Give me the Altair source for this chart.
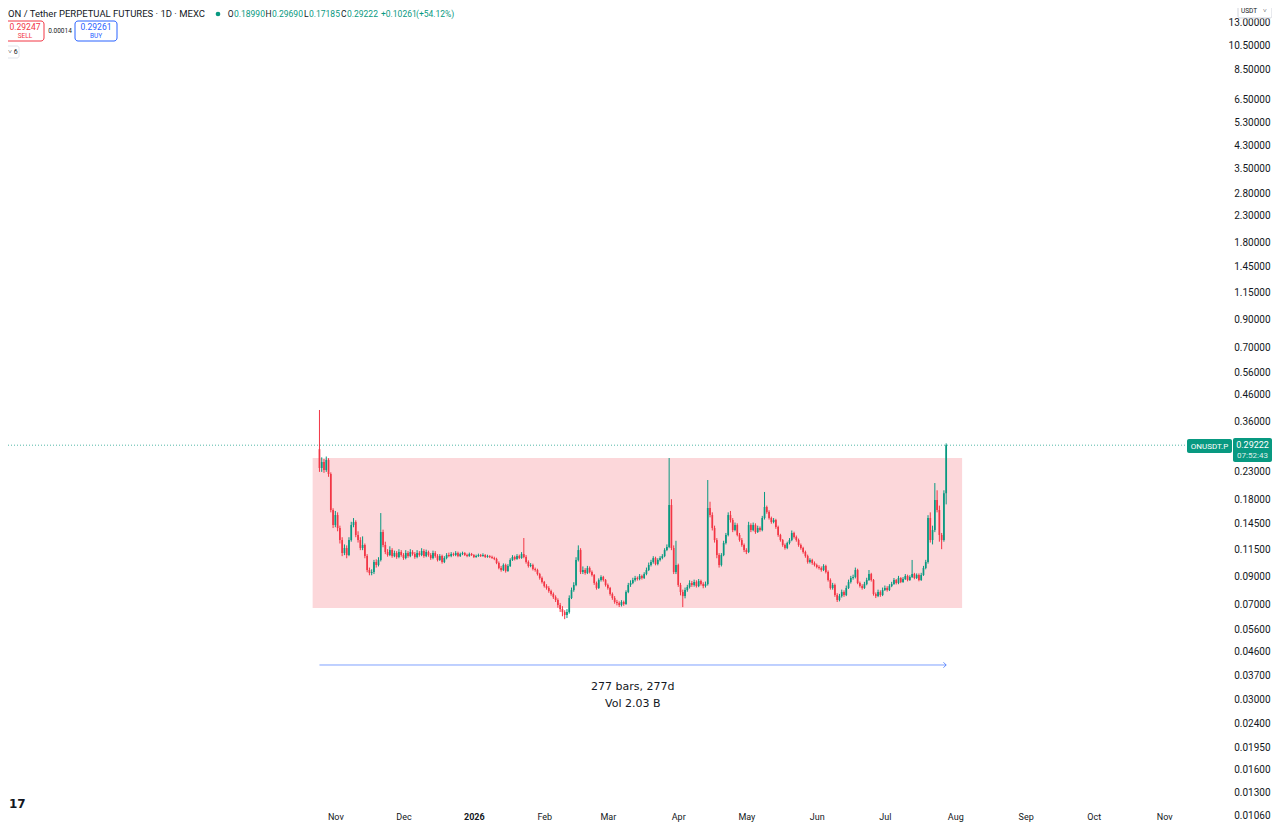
import altair as alt
import pandas as pd

# ---------------- data ----------------
start_date = "2025-10-25"          # first daily bar (277 bars)
first_open = 0.2820

closes = [
    0.2382, 0.2513, 0.2339, 0.2559, 0.2257, 0.1634, 0.1428, 0.1562, 0.1390, 0.1248,
    0.1111, 0.1162, 0.1091, 0.1248, 0.1428, 0.1467, 0.1306, 0.1248, 0.1162, 0.1194,
    0.1081, 0.0954, 0.0929, 0.0937, 0.1025, 0.0998, 0.1044, 0.1341, 0.1194, 0.1121,
    0.1091, 0.1141, 0.1081, 0.1111, 0.1072, 0.1121, 0.1091, 0.1062, 0.1111, 0.1081,
    0.1121, 0.1101, 0.1072, 0.1111, 0.1091, 0.1131, 0.1081, 0.1121, 0.1091, 0.1062,
    0.1111, 0.1081, 0.1044, 0.1081, 0.1025, 0.1062, 0.1091, 0.1081, 0.1101, 0.1091,
    0.1111, 0.1081, 0.1101, 0.1111, 0.1091, 0.1081, 0.1101, 0.1091, 0.1072, 0.1081,
    0.1091, 0.1081, 0.1091, 0.1072, 0.1081, 0.1072, 0.1062, 0.1053, 0.1016, 0.0971,
    0.0954, 0.0998, 0.0946, 0.0989, 0.1044, 0.1072, 0.1053, 0.1081, 0.1062, 0.1101,
    0.1072, 0.1025, 0.0989, 0.0998, 0.0963, 0.0954, 0.0920, 0.0888, 0.0857, 0.0826,
    0.0812, 0.0790, 0.0769, 0.0748, 0.0729, 0.0697, 0.0672, 0.0654, 0.0637, 0.0654,
    0.0742, 0.0797, 0.0834, 0.1044, 0.1141, 0.0937, 0.0954, 0.0929, 0.0971, 0.0937,
    0.0912, 0.0849, 0.0812, 0.0872, 0.0896, 0.0872, 0.0834, 0.0812, 0.0769, 0.0742,
    0.0716, 0.0709, 0.0697, 0.0716, 0.0703, 0.0783, 0.0834, 0.0849, 0.0872, 0.0888,
    0.0880, 0.0904, 0.0888, 0.0920, 0.0954, 0.0998, 0.1025, 0.1062, 0.1007, 0.1044,
    0.1062, 0.1081, 0.1141, 0.1173, 0.1709, 0.1162, 0.0937, 0.0998, 0.0834, 0.0783,
    0.0755, 0.0797, 0.0819, 0.0849, 0.0834, 0.0857, 0.0826, 0.0864, 0.0841, 0.0826,
    0.0841, 0.1664, 0.1562, 0.1390, 0.1248, 0.1091, 0.0998, 0.1091, 0.1215, 0.1306,
    0.1562, 0.1494, 0.1365, 0.1428, 0.1306, 0.1248, 0.1194, 0.1141, 0.1121, 0.1428,
    0.1365, 0.1428, 0.1341, 0.1390, 0.1365, 0.1521, 0.1679, 0.1605, 0.1521, 0.1467,
    0.1494, 0.1403, 0.1306, 0.1248, 0.1194, 0.1162, 0.1215, 0.1248, 0.1329, 0.1283,
    0.1248, 0.1194, 0.1162, 0.1121, 0.1081, 0.1025, 0.1044, 0.1016, 0.0998, 0.0980,
    0.0971, 0.0954, 0.0989, 0.0937, 0.0872, 0.0812, 0.0834, 0.0762, 0.0729, 0.0755,
    0.0783, 0.0762, 0.0812, 0.0857, 0.0888, 0.0896, 0.0954, 0.0849, 0.0826, 0.0812,
    0.0841, 0.0872, 0.0920, 0.0872, 0.0769, 0.0755, 0.0783, 0.0762, 0.0797, 0.0812,
    0.0797, 0.0826, 0.0841, 0.0872, 0.0849, 0.0888, 0.0857, 0.0880, 0.0904, 0.0872,
    0.0896, 0.0920, 0.0888, 0.0912, 0.0872, 0.0912, 0.0971, 0.1025, 0.1521, 0.1248,
    0.1365, 0.1787, 0.1634, 0.1306, 0.1248, 0.1899, 0.29222,
]

highs = [
    0.4007, 0.2620, 0.2580, 0.2640, 0.2600, 0.2290, 0.1660, 0.1620, 0.1600, 0.1420,
    0.1280, 0.1200, 0.1190, 0.1280, 0.1470, 0.1520, 0.1490, 0.1350, 0.1280, 0.1290,
    0.1210, 0.1100, 0.0975, 0.0960, 0.1045, 0.1050, 0.1070, 0.1590, 0.1370, 0.1230,
    0.1150, 0.1180, 0.1160, 0.1135, 0.1130, 0.1150, 0.1140, 0.1110, 0.1140, 0.1130,
    0.1150, 0.1140, 0.1120, 0.1140, 0.1130, 0.1160, 0.1150, 0.1145, 0.1135, 0.1110,
    0.1135, 0.1130, 0.1100, 0.1100, 0.1095, 0.1080, 0.1110, 0.1115, 0.1120, 0.1115,
    0.1130, 0.1125, 0.1115, 0.1125, 0.1120, 0.1105, 0.1115, 0.1112, 0.1100, 0.1095,
    0.1105, 0.1102, 0.1108, 0.1100, 0.1094, 0.1090, 0.1085, 0.1075, 0.1065, 0.1030,
    0.0990, 0.1012, 0.1010, 0.1005, 0.1060, 0.1090, 0.1085, 0.1100, 0.1095, 0.1120,
    0.1271, 0.1090, 0.1040, 0.1015, 0.1010, 0.0975, 0.0965, 0.0930, 0.0900, 0.0865,
    0.0840, 0.0825, 0.0800, 0.0780, 0.0760, 0.0740, 0.0710, 0.0690, 0.0665, 0.0672,
    0.0760, 0.0815, 0.0855, 0.1070, 0.1190, 0.1160, 0.0985, 0.0970, 0.0990, 0.0985,
    0.0950, 0.0920, 0.0860, 0.0885, 0.0910, 0.0905, 0.0880, 0.0845, 0.0820, 0.0780,
    0.0755, 0.0730, 0.0720, 0.0728, 0.0725, 0.0795, 0.0850, 0.0870, 0.0890, 0.0905,
    0.0900, 0.0920, 0.0915, 0.0935, 0.0975, 0.1020, 0.1045, 0.1080, 0.1075, 0.1060,
    0.1080, 0.1100, 0.1160, 0.1200, 0.2605, 0.1800, 0.1190, 0.1240, 0.1010, 0.0850,
    0.0800, 0.0815, 0.0835, 0.0870, 0.0865, 0.0875, 0.0870, 0.0880, 0.0875, 0.0855,
    0.0860, 0.2138, 0.1760, 0.1600, 0.1420, 0.1270, 0.1110, 0.1110, 0.1240, 0.1330,
    0.1600, 0.1620, 0.1520, 0.1460, 0.1450, 0.1330, 0.1270, 0.1210, 0.1160, 0.1470,
    0.1450, 0.1460, 0.1450, 0.1420, 0.1410, 0.1550, 0.1921, 0.1700, 0.1630, 0.1540,
    0.1520, 0.1510, 0.1420, 0.1320, 0.1260, 0.1210, 0.1230, 0.1270, 0.1360, 0.1345,
    0.1300, 0.1265, 0.1210, 0.1175, 0.1135, 0.1095, 0.1060, 0.1055, 0.1030, 0.1010,
    0.0995, 0.0985, 0.1005, 0.1000, 0.0950, 0.0885, 0.0850, 0.0845, 0.0775, 0.0770,
    0.0800, 0.0795, 0.0830, 0.0875, 0.0905, 0.0915, 0.0975, 0.0965, 0.0860, 0.0840,
    0.0858, 0.0890, 0.0954, 0.0930, 0.0880, 0.0780, 0.0800, 0.0795, 0.0815, 0.0830,
    0.0825, 0.0840, 0.0858, 0.0888, 0.0880, 0.0905, 0.0895, 0.0895, 0.0920, 0.0915,
    0.0910, 0.1044, 0.0930, 0.0925, 0.0925, 0.0930, 0.0990, 0.1045, 0.1560, 0.1600,
    0.1420, 0.2081, 0.1950, 0.1700, 0.1330, 0.1950, 0.2969,
]

lows = [
    0.2300, 0.2300, 0.2280, 0.2300, 0.2200, 0.1600, 0.1390, 0.1400, 0.1350, 0.1210,
    0.1080, 0.1090, 0.1060, 0.1080, 0.1230, 0.1400, 0.1280, 0.1220, 0.1140, 0.1140,
    0.1060, 0.0935, 0.0910, 0.0910, 0.0920, 0.0975, 0.0985, 0.1030, 0.1170, 0.1100,
    0.1075, 0.1080, 0.1065, 0.1070, 0.1055, 0.1060, 0.1075, 0.1045, 0.1050, 0.1065,
    0.1070, 0.1085, 0.1055, 0.1060, 0.1075, 0.1080, 0.1065, 0.1070, 0.1075, 0.1045,
    0.1050, 0.1065, 0.1030, 0.1035, 0.1010, 0.1015, 0.1050, 0.1070, 0.1070, 0.1080,
    0.1080, 0.1070, 0.1072, 0.1090, 0.1082, 0.1070, 0.1074, 0.1082, 0.1062, 0.1064,
    0.1073, 0.1072, 0.1074, 0.1063, 0.1065, 0.1062, 0.1054, 0.1042, 0.1005, 0.0960,
    0.0940, 0.0945, 0.0932, 0.0938, 0.0980, 0.1035, 0.1040, 0.1045, 0.1052, 0.1055,
    0.1060, 0.1010, 0.0975, 0.0978, 0.0950, 0.0940, 0.0908, 0.0875, 0.0845, 0.0815,
    0.0800, 0.0778, 0.0758, 0.0736, 0.0716, 0.0680, 0.0655, 0.0630, 0.0614, 0.0620,
    0.0645, 0.0735, 0.0785, 0.0825, 0.1030, 0.0920, 0.0920, 0.0915, 0.0920, 0.0925,
    0.0900, 0.0835, 0.0800, 0.0805, 0.0860, 0.0860, 0.0822, 0.0800, 0.0758, 0.0730,
    0.0705, 0.0695, 0.0685, 0.0688, 0.0692, 0.0698, 0.0775, 0.0820, 0.0840, 0.0860,
    0.0868, 0.0870, 0.0876, 0.0880, 0.0910, 0.0945, 0.0985, 0.1010, 0.0995, 0.0995,
    0.1030, 0.1050, 0.1070, 0.1130, 0.1160, 0.1140, 0.0920, 0.0920, 0.0820, 0.0760,
    0.0684, 0.0740, 0.0785, 0.0808, 0.0820, 0.0822, 0.0815, 0.0818, 0.0830, 0.0810,
    0.0815, 0.0830, 0.1530, 0.1360, 0.1220, 0.1060, 0.0975, 0.0985, 0.1080, 0.1200,
    0.1290, 0.1460, 0.1340, 0.1350, 0.1290, 0.1230, 0.1175, 0.1120, 0.1100, 0.1110,
    0.1340, 0.1350, 0.1320, 0.1330, 0.1345, 0.1350, 0.1500, 0.1580, 0.1500, 0.1445,
    0.1450, 0.1380, 0.1285, 0.1230, 0.1175, 0.1145, 0.1150, 0.1200, 0.1235, 0.1265,
    0.1230, 0.1175, 0.1145, 0.1105, 0.1065, 0.1010, 0.1012, 0.1000, 0.0985, 0.0968,
    0.0958, 0.0940, 0.0945, 0.0925, 0.0860, 0.0800, 0.0800, 0.0750, 0.0716, 0.0720,
    0.0745, 0.0750, 0.0755, 0.0805, 0.0845, 0.0875, 0.0885, 0.0840, 0.0815, 0.0800,
    0.0805, 0.0832, 0.0865, 0.0860, 0.0758, 0.0742, 0.0748, 0.0750, 0.0755, 0.0790,
    0.0786, 0.0790, 0.0818, 0.0835, 0.0838, 0.0840, 0.0848, 0.0850, 0.0872, 0.0862,
    0.0865, 0.0888, 0.0878, 0.0880, 0.0862, 0.0865, 0.0905, 0.0960, 0.1010, 0.1220,
    0.1200, 0.1340, 0.1600, 0.1230, 0.1150, 0.1230, 0.17185,
]

price_ticks = [13.0, 10.5, 8.5, 6.5, 5.3, 4.3, 3.5, 2.8, 2.3, 1.8, 1.45, 1.15,
               0.9, 0.7, 0.56, 0.46, 0.36, 0.23, 0.18, 0.145, 0.115, 0.09, 0.07,
               0.056, 0.046, 0.037, 0.03, 0.024, 0.0195, 0.016, 0.013, 0.0106]
month_ticks = [(2025, 11), (2025, 12), (2026, 1), (2026, 2), (2026, 3), (2026, 4),
               (2026, 5), (2026, 6), (2026, 7), (2026, 8), (2026, 9), (2026, 10),
               (2026, 11)]

# header figures
ohlc_letters = ["O", "H", "L", "C"]
ohlc_values = ["0.18990", "0.29690", "0.17185", "0.29222"]
change_text = ["+0.10261", "(+54.12%)"]

# range rectangle and date-range measure
box_start, box_end = "2025-10-22", "2026-08-04"
box_top, box_bottom = 0.2606, 0.0679
measure_start, measure_end, measure_price = "2025-10-25", "2026-07-28", 0.0407
measure_label_date = "2026-03-12"
measure_lines = ["277 bars, 277d", "Vol 2.03 B"]
measure_label_prices = [0.0334, 0.0287]
last_price = 0.29222

UP, DOWN = "#089981", "#f23645"
TXT = "#131722"
FONT = "Roboto"

# ---------------- tables ----------------
assert len(closes) == len(highs) == len(lows) == 277
dates = pd.date_range(start_date, periods=len(closes), freq="D").strftime("%Y-%m-%d").tolist()
opens = [first_open] + closes[:-1]          # each bar opens at the previous close
candles = pd.DataFrame({
    "date": dates, "open": opens, "close": closes, "high": highs, "low": lows,
    "dir": ["up" if c >= o else "down" for o, c in zip(opens, closes)],
})

x_scale = alt.Scale(type="utc", domain=[
    alt.DateTime(year=2025, month=6, date=12, hours=1, utc=True),
    alt.DateTime(year=2026, month=11, date=28, hours=16, utc=True)])
y_scale = alt.Scale(type="log", domain=[0.009867, 14.74], nice=False)

ax_x = alt.Axis(
    values=[alt.DateTime(year=y, month=m, date=1, utc=True) for y, m in month_ticks],
    labelExpr="utcmonth(datum.value) == 0 ? utcFormat(datum.value, '%Y') : utcFormat(datum.value, '%b')",
    labelFontWeight={"condition": {"test": "utcmonth(datum.value) == 0", "value": 700}, "value": 400},
    orient="bottom", offset=-13, ticks=False, domain=False, grid=False, title=None,
    labelFontSize=9, labelColor=TXT, labelFont=FONT, labelOverlap=False,
    labelFlush=False, labelPadding=2)
ax_y = alt.Axis(
    values=price_ticks, format=".5f", orient="right", labelAlign="right",
    labelBaseline="middle", labelPadding=38, ticks=False, domain=False, grid=False,
    title=None, labelFontSize=10, labelColor=TXT, labelFont=FONT, labelOverlap=False)

color_enc = alt.Color("dir:N", scale=alt.Scale(domain=["up", "down"], range=[UP, DOWN]), legend=None)

box = alt.Chart(pd.DataFrame({"x1": [box_start], "x2": [box_end], "t": [box_top], "b": [box_bottom]})).mark_rect(
    color=DOWN, opacity=0.2).encode(
    x=alt.X("x1:T", scale=x_scale, axis=ax_x), x2="x2:T",
    y=alt.Y("t:Q", scale=y_scale, axis=ax_y), y2="b:Q")

price_line = alt.Chart(pd.DataFrame({"p": [last_price]})).mark_rule(
    color=UP, strokeDash=[1, 2], strokeWidth=1, opacity=0.7).encode(
    y=alt.Y("p:Q", scale=y_scale, axis=ax_y), x=alt.value(0), x2=alt.value(1179))

measure_df = pd.DataFrame({"s": [measure_start], "e": [measure_end], "p": [measure_price]})
measure = alt.Chart(measure_df).mark_rule(color="#2962ff", strokeWidth=1, opacity=0.6).encode(
    x=alt.X("s:T", scale=x_scale, axis=ax_x), x2="e:T", y=alt.Y("p:Q", scale=y_scale, axis=ax_y))
arrow = alt.Chart(measure_df).mark_point(
    shape="M-1,-1L0,0L-1,1", filled=False, size=30, strokeWidth=1, color="#2962ff", opacity=0.7).encode(
    x=alt.X("e:T", scale=x_scale, axis=ax_x), y=alt.Y("p:Q", scale=y_scale, axis=ax_y))
measure_text = alt.Chart(pd.DataFrame({"d": [measure_label_date] * 2, "p": measure_label_prices, "t": measure_lines})).mark_text(
    font="DejaVu Sans", fontSize=11, color=TXT, align="center", baseline="middle").encode(
    x=alt.X("d:T", scale=x_scale, axis=ax_x), y=alt.Y("p:Q", scale=y_scale, axis=ax_y), text="t:N")

wicks = alt.Chart(candles).mark_rule(strokeWidth=1).encode(
    x=alt.X("date:T", scale=x_scale, axis=ax_x),
    y=alt.Y("low:Q", scale=y_scale, axis=ax_y), y2="high:Q", color=color_enc)
bodies = alt.Chart(candles).mark_bar(size=1.7).encode(
    x=alt.X("date:T", scale=x_scale, axis=ax_x),
    y=alt.Y("open:Q", scale=y_scale, axis=ax_y), y2="close:Q", color=color_enc)

one = pd.DataFrame({"a": [1]})


def label(sx, sy, text, size=9, color=TXT, align="left", weight=400, opacity=1.0, font=FONT):
    return alt.Chart(one).mark_text(
        fontSize=size, color=color, align=align, baseline="middle", fontWeight=weight,
        opacity=opacity, font=font).encode(x=alt.value(sx), y=alt.value(sy), text=alt.value(text))


def box_mark(x1, x2, y1, y2, fill="white", stroke=None, radius=3):
    kw = dict(fill=fill, cornerRadius=radius)
    if stroke:
        kw.update(stroke=stroke, strokeWidth=1)
    return alt.Chart(one).mark_rect(**kw).encode(
        x=alt.value(x1), x2=alt.value(x2), y=alt.value(y1), y2=alt.value(y2))


ROW1 = 6
value_x = [226, 264, 301, 339]
overlay = [
    # header row 1
    label(0, ROW1, "ON / Tether PERPETUAL FUTURES · 1D · MEXC", size=9.5),
    alt.Chart(one).mark_point(filled=True, size=22, color=UP, opacity=1).encode(
        x=alt.value(210), y=alt.value(ROW1)),
]
for letter, val, vx in zip(ohlc_letters, ohlc_values, value_x):
    overlay.append(label(vx - 0.5, ROW1, letter, 8.5, TXT, "right"))
    overlay.append(label(vx, ROW1, val, 8.5, UP))
overlay += [
    label(373, ROW1, change_text[0], 8.5, UP),
    label(408, ROW1, change_text[1], 8.5, UP),
    # header row 2 (sell / buy)
    box_mark(-3, 36, 13, 33, stroke=DOWN),
    label(17, 19, "0.29247", 8.5, DOWN, "center"),
    label(17, 28, "SELL", 6.5, DOWN, "center"),
    label(52, 23, "0.00014", 6.5, TXT, "center"),
    box_mark(67, 109, 13, 33, stroke="#2962ff"),
    label(88, 19, "0.29261", 8.5, "#2962ff", "center"),
    label(88, 28, "BUY", 6.5, "#2962ff", "center"),
    # header row 3
    box_mark(-3, 11, 38, 50, stroke="#e0e3eb", radius=2),
    label(0, 44, "˅ 6", 7, TXT, "left"),
    # logo fragment
    label(1, 796, "17", 12, TXT, "left", 900, font="DejaVu Sans"),
    # currency selector
    box_mark(1230, 1264, -5, 10, stroke="#d1d4dc", radius=2),
    label(1233, 3, "USDT", 6.5, TXT, "left"),
    label(1255, 3, "˅", 6.5, TXT, "left"),
    # last price tags
    box_mark(1179, 1224, 431, 445, fill=UP, radius=2),
    label(1201.5, 438.5, "ONUSDT.P", 8, "white", "center"),
    box_mark(1225, 1264, 430, 454, fill=UP, radius=2),
    label(1244.5, 437, "0.29222", 9, "white", "center"),
    label(1244.5, 448, "07:52:43", 8, "white", "center", opacity=0.85),
]

chart = alt.layer(
    box, price_line, measure, arrow, measure_text, wicks, bodies, *overlay
).properties(
    width=1224, height=815,
    autosize=alt.AutoSizeParams(type="none"),
    padding={"left": 0, "top": 0, "right": 40, "bottom": 0},
    background="white",
).configure_view(stroke=None)

chart.save("out.html", embed_options={"renderer": "svg", "actions": False})
